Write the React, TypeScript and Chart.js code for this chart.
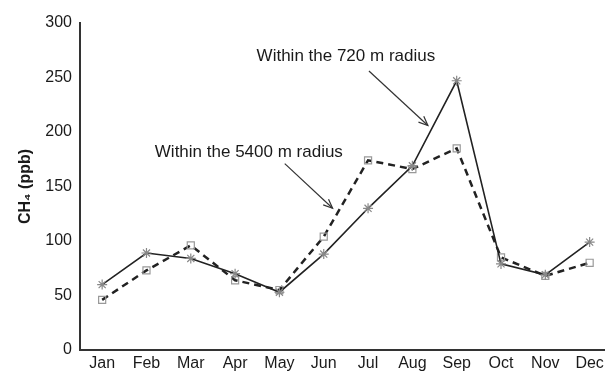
import React, { useEffect, useRef } from "react";
import { Chart, registerables } from "chart.js";

Chart.register(...registerables);

const months = ["Jan", "Feb", "Mar", "Apr", "May", "Jun", "Jul", "Aug", "Sep", "Oct", "Nov", "Dec"];
const within720 = [60, 89, 84, 70, 53, 88, 130, 169, 247, 79, 69, 99];
const within5400 = [46, 73, 96, 64, 55, 104, 174, 166, 185, 85, 68, 80];
const yTicks = [0, 50, 100, 150, 200, 250, 300];

// annotation labels in data units (category index, value)
const labelTexts = ["Within the 720 m radius", "Within the 5400 m radius"];
const labelAnchors = [
  [5.5, 269],
  [3.31, 181],
];
const arrowFrom = [
  [6.02, 256],
  [4.12, 171],
];
const arrowTo = [
  [7.35, 206],
  [5.2, 130],
];

const annotationPlugin = {
  id: "annotations",
  afterDraw(chart: any) {
    const ctx = chart.ctx;
    const xs = chart.scales.x;
    const ys = chart.scales.y;
    ctx.save();
    ctx.fillStyle = "#1a1a1a";
    ctx.strokeStyle = "#333";
    ctx.font = "17px 'Liberation Sans', Arial, sans-serif";
    ctx.textAlign = "center";
    ctx.textBaseline = "middle";
    labelTexts.forEach((t, i) => {
      const [lx, lv] = labelAnchors[i];
      ctx.fillText(t, xs.getPixelForValue(lx), ys.getPixelForValue(lv));
      const x1 = xs.getPixelForValue(arrowFrom[i][0]);
      const y1 = ys.getPixelForValue(arrowFrom[i][1]);
      const x2 = xs.getPixelForValue(arrowTo[i][0]);
      const y2 = ys.getPixelForValue(arrowTo[i][1]);
      ctx.lineWidth = 1.2;
      ctx.beginPath();
      ctx.moveTo(x1, y1);
      ctx.lineTo(x2, y2);
      ctx.stroke();
      const ang = Math.atan2(y2 - y1, x2 - x1);
      const len = 10;
      const spread = 0.4;
      ctx.beginPath();
      ctx.moveTo(x2 - len * Math.cos(ang - spread), y2 - len * Math.sin(ang - spread));
      ctx.lineTo(x2, y2);
      ctx.lineTo(x2 - len * Math.cos(ang + spread), y2 - len * Math.sin(ang + spread));
      ctx.stroke();
    });
    ctx.restore();
  },
};

export default function App() {
  const ref = useRef<HTMLCanvasElement>(null);
  useEffect(() => {
    document.body.style.margin = "0";
    const chart = new Chart(ref.current!, {
      type: "line",
      data: {
        labels: months,
        datasets: [
          {
            label: "Within the 720 m radius",
            data: within720,
            borderColor: "#222",
            borderWidth: 1.6,
            pointStyle: "star",
            pointRadius: 5,
            pointBorderColor: "#888",
            pointBackgroundColor: "#888",
            pointBorderWidth: 1.2,
            tension: 0,
            fill: false,
          },
          {
            label: "Within the 5400 m radius",
            data: within5400,
            borderColor: "#222",
            borderWidth: 2.5,
            borderDash: [7, 5],
            pointStyle: "rect",
            pointRadius: 5,
            pointBorderColor: "#999",
            pointBackgroundColor: "rgba(255,255,255,0)",
            pointBorderWidth: 1.2,
            tension: 0,
            fill: false,
          },
        ],
      },
      options: {
        responsive: false,
        animation: false,
        layout: { padding: { top: 23, right: 0, left: 0, bottom: 0 } },
        plugins: { legend: { display: false }, tooltip: { enabled: false } },
        scales: {
          x: {
            offset: true,
            grid: { display: false, drawTicks: false },
            border: { display: true, color: "#333", width: 2 },
            afterFit: (s: any) => {
              s.height = 23;
            },
            ticks: {
              color: "#1a1a1a",
              font: { family: "'Liberation Sans', Arial, sans-serif", size: 16 },
              padding: 4,
              maxRotation: 0,
              autoSkip: false,
            },
          },
          y: {
            min: 0,
            max: 300,
            afterBuildTicks: (s: any) => {
              s.ticks = yTicks.map((v) => ({ value: v }));
            },
            afterFit: (s: any) => {
              s.width = 80;
            },
            grid: { display: false, drawTicks: false },
            border: { display: true, color: "#333", width: 2 },
            ticks: {
              color: "#1a1a1a",
              font: { family: "'Liberation Sans', Arial, sans-serif", size: 16 },
              padding: 8,
            },
            title: {
              display: true,
              text: "CH₄ (ppb)",
              color: "#1a1a1a",
              font: { family: "'Liberation Sans', Arial, sans-serif", size: 16, weight: "bold" },
              padding: { top: 16, bottom: 0 },
            },
          },
        },
      },
      plugins: [annotationPlugin],
    });
    return () => chart.destroy();
  }, []);
  return (
    <div style={{ width: 605, height: 373, overflow: "hidden" }}>
      <canvas ref={ref} width={618} height={373} style={{ display: "block" }} />
    </div>
  );
}
